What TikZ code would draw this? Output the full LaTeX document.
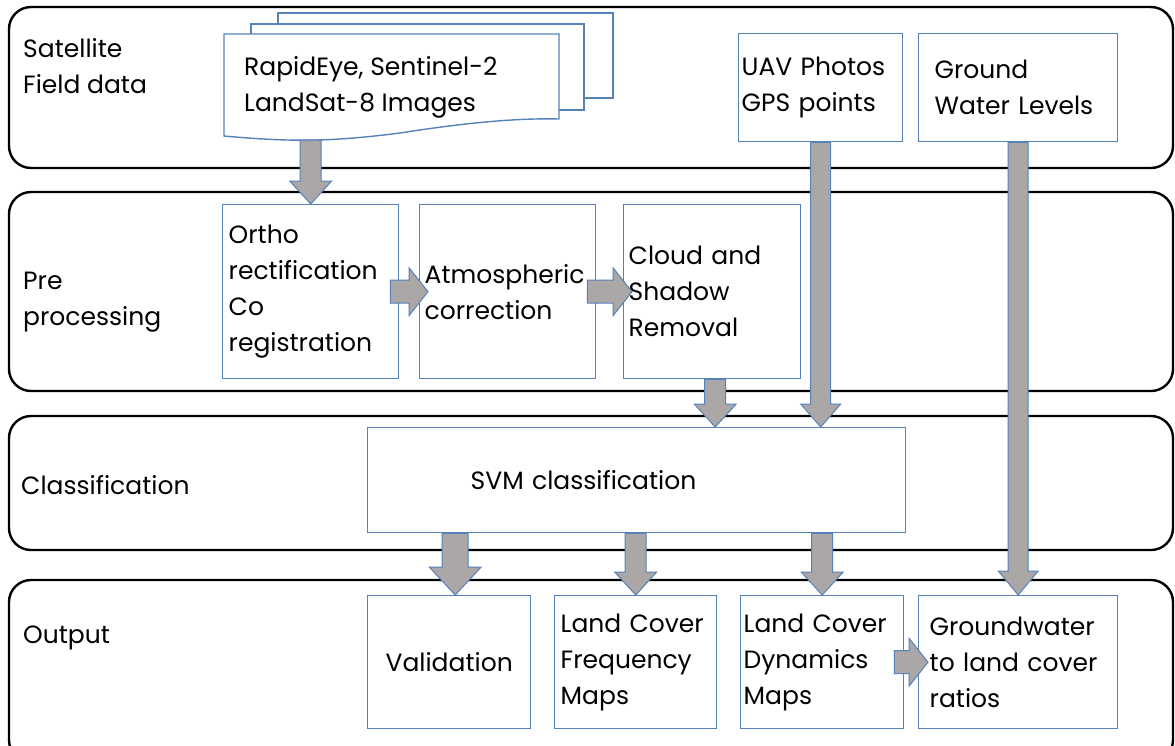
\documentclass[tikz,border=0pt]{standalone}
\usepackage{fontspec}
\setmainfont{Poppins}
\usetikzlibrary{calc}

\definecolor{boxblue}{RGB}{84,130,185}
\definecolor{arrowgray}{RGB}{170,167,166}

\tikzset{
  lane/.style={draw=black, line width=2.4pt, rounded corners=22pt, fill=white},
  pbox/.style={draw=boxblue, line width=1.4pt, fill=white, anchor=north west,
    inner sep=5pt, align=left, font=\fontsize{25}{36}\selectfont},
  lanelabel/.style={anchor=west, align=left, inner sep=0pt,
    font=\fontsize{25}{36}\selectfont},
  docsheet/.style={draw=boxblue, line width=1.4pt, fill=white},
  blockarr/.style={fill=arrowgray, draw=boxblue, line width=1pt},
}

% block arrows: start, tip, half shaft, half head, head length
\newcommand{\vblock}[5]{%
  \draw[blockarr] let \p1=(#1), \p2=(#2) in
    (\x2-#3,\y1) -- (\x2+#3,\y1) -- (\x2+#3,\y2+#5) -- (\x2+#4,\y2+#5)
    -- (\x2,\y2) -- (\x2-#4,\y2+#5) -- (\x2-#3,\y2+#5) -- cycle;}
\newcommand{\hblock}[5]{%
  \draw[blockarr] let \p1=(#1), \p2=(#2) in
    (\x1,\y2-#3) -- (\x2-#5,\y2-#3) -- (\x2-#5,\y2-#4) -- (\x2,\y2)
    -- (\x2-#5,\y2+#4) -- (\x2-#5,\y2+#3) -- (\x1,\y2+#3) -- cycle;}

\begin{document}
\begin{tikzpicture}[x=1pt, y=-1pt]
  \useasboundingbox (0,0) rectangle (1175,745);
  \clip (0,0) rectangle (1175,745);

  % swim lanes
  \draw[lane] (9,7) rectangle (1173,168);
  \draw[lane] (9,192) rectangle (1173,391);
  \draw[lane] (9,416) rectangle (1173,550);
  \draw[lane] (9,580) rectangle (1173,762);

  \node[lanelabel] (lsat) at (23,66) {Satellite\\Field data};
  \node[lanelabel] (lpre) at (23,302) {Pre\\processing};
  \node[lanelabel] (lcls) at (21,485) {Classification};
  \node[lanelabel] (lout) at (23,638) {Output};

  % satellite images (stacked sheets)
  \draw[docsheet] (278,13) rectangle (613,98);
  \draw[docsheet] (251,24) rectangle (584,110);
  \draw[docsheet] (224,34) -- (559,34) -- (559,119)
    .. controls (520,118) and (470,122) .. (400,133)
    .. controls (330,142) and (290,142) .. (224,136) -- cycle;
  \node[anchor=west, align=left, inner sep=0pt, font=\fontsize{25}{36}\selectfont]
    (sat) at (244,87) {RapidEye, Sentinel-2\\LandSat-8 Images};
  \coordinate (docbot) at (310,140);

  \node[pbox, inner xsep=3pt, text width=158pt, minimum height=108pt] (uav) at (738,33) {UAV Photos\\GPS points};
  \node[pbox, inner xsep=16pt, text width=167pt, minimum height=108pt] (ground) at (918,33) {Ground\\Water Levels};

  % pre processing
  \node[pbox, inner xsep=6pt, text width=164pt, minimum height=174pt] (ortho) at (222,204) {Ortho\\rectification\\Co\\registration};
  \node[pbox, text width=166pt, minimum height=174pt] (atm) at (419,204) {Atmospheric\\correction};
  \node[pbox, text width=167pt, minimum height=174pt] (cloud) at (623,204) {Cloud and\\Shadow\\Removal};

  % classification
  \node[pbox, inner xsep=103pt, text width=332pt, minimum height=105pt] (svm) at (367,427) {SVM classification};

  % output
  \node[pbox, align=center, text width=153pt, minimum height=133pt] (valid) at (367,595) {Validation};
  \node[pbox, inner xsep=6pt, text width=150pt, minimum height=133pt] (freq) at (554,595) {Land Cover\\Frequency\\Maps};
  \node[pbox, inner xsep=3pt, text width=157pt, minimum height=133pt] (dyn) at (740,595) {Land Cover\\Dynamics\\Maps};
  \node[pbox, inner xsep=11pt, text width=177pt, minimum height=133pt] (gwr) at (918,595) {Groundwater\\to land cover\\ratios};

  % arrows
  \vblock{docbot}{ortho.north}{10.5pt}{21pt}{23pt}
  \vblock{[xshift=3pt]cloud.south}{[xshift=3pt]cloud.south |- svm.north}{10.5pt}{21pt}{23pt}
  \vblock{uav.south}{uav.south |- svm.north}{10pt}{20pt}{23pt}
  \vblock{ground.south}{ground.south |- gwr.north}{10pt}{20pt}{24pt}
  \vblock{[xshift=6pt]valid.north |- svm.south}{[xshift=6pt]valid.north}{13pt}{26pt}{28pt}
  \vblock{freq.north |- svm.south}{freq.north}{10.5pt}{21pt}{23pt}
  \vblock{dyn.north |- svm.south}{dyn.north}{10.5pt}{21pt}{23pt}
  \hblock{[xshift=-9pt]ortho.east}{[xshift=9pt]atm.west}{11.5pt}{24pt}{19pt}
  \hblock{[xshift=-9pt]atm.east}{[xshift=9pt]cloud.west}{11.5pt}{24pt}{19pt}
  \hblock{[xshift=-10pt]dyn.east}{[xshift=10pt]gwr.west}{11.5pt}{24pt}{19pt}
\end{tikzpicture}
\end{document}
